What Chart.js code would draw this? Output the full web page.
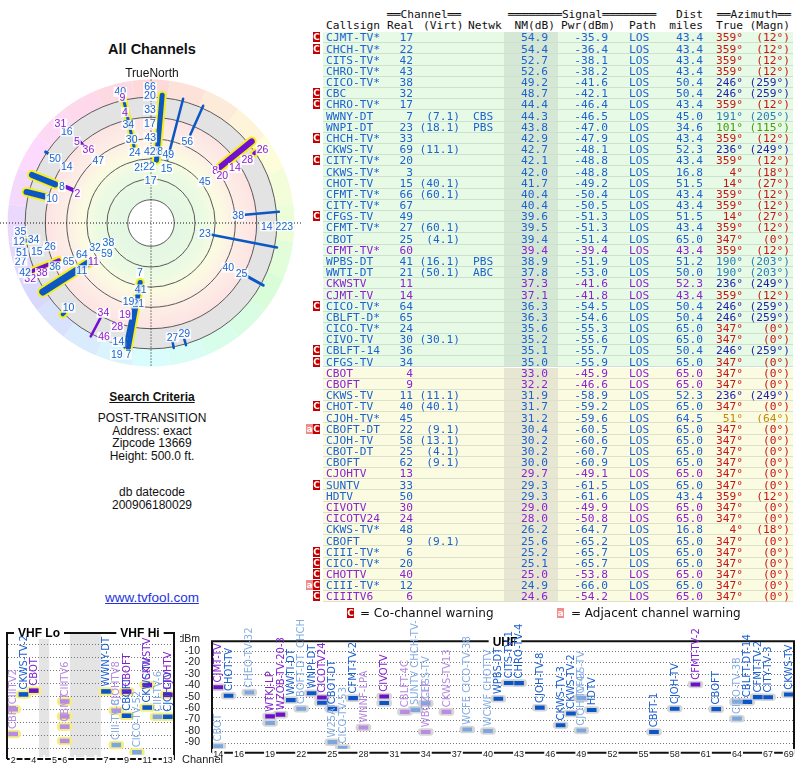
<!DOCTYPE html>
<html><head><meta charset="utf-8">
<script src="https://cdn.jsdelivr.net/npm/chart.js@4.4.1/dist/chart.umd.min.js"></script>
<style>
body{margin:0;width:800px;height:768px;position:relative;background:#fff;overflow:hidden;font-family:"Liberation Sans",Arial,sans-serif;}
.abs{position:absolute;}
.ctr{position:absolute;left:0;width:304px;text-align:center;color:#111;white-space:nowrap;}
.mono{font-family:"DejaVu Sans Mono",monospace;font-size:11.2px;line-height:11px;white-space:pre;}
.row{position:absolute;left:323px;width:470px;border-bottom:1px solid rgba(140,160,140,0.28);box-sizing:border-box;}
.cell{position:absolute;top:0;}
.ico{position:absolute;width:7px;height:10px;color:#fff;font:bold 9px "DejaVu Sans",sans-serif;line-height:10px;text-align:center;}
canvas{position:absolute;}
</style></head><body>

<div class="ctr" style="top:41px;font-weight:bold;font-size:14.5px;">All Channels</div>
<div class="ctr" style="top:66px;font-size:12px;z-index:3;">TrueNorth</div>
<canvas id="polar" width="302" height="302" style="left:0;top:72px;"></canvas>
<div class="ctr" style="top:390px;font-weight:bold;font-size:12px;text-decoration:underline;">Search Criteria</div>
<div class="ctr" style="top:412px;font-size:12px;line-height:12.5px;">POST-TRANSITION<br>Address: exact<br>Zipcode 13669<br>Height: 500.0 ft.</div>
<div class="ctr" style="top:486px;font-size:12px;line-height:12.5px;">db datecode<br>200906180029</div>
<div class="ctr" style="top:590px;font-size:13.5px;color:#2233dd;text-decoration:underline;">www.tvfool.com</div>

<div id="tbl"></div>

<canvas id="vhf" width="180" height="148" style="left:0;top:620px;"></canvas>
<canvas id="uhf" width="620" height="148" style="left:180px;top:620px;"></canvas>
<div class="abs" style="left:182px;top:753px;font-size:11px;color:#222;">Channel</div>

<script>
// ---------------- TABLE DATA ----------------
const callsign = ['CJMT-TV*','CHCH-TV*','CITS-TV*','CHRO-TV*','CICO-TV*','CBC','CHRO-TV*','WWNY-DT','WNPI-DT','CHCH-TV*','CKWS-TV','CITY-TV*','CKWS-TV*','CHOT-TV','CFMT-TV*','CITY-TV*','CFGS-TV','CFMT-TV*','CBOT','CFMT-TV*','WPBS-DT','WWTI-DT','CKWSTV','CJMT-TV','CICO-TV*','CBLFT-D*','CICO-TV*','CIVO-TV','CBLFT-14','CFGS-TV','CBOT','CBOFT','CKWS-TV','CHOT-TV','CJOH-TV*','CBOFT-DT','CJOH-TV','CBOT-DT','CBOFT','CJOHTV','SUNTV','HDTV','CIVOTV','CICOTV24','CKWS-TV*','CBOFT','CIII-TV*','CICO-TV*','CHOTTV','CIII-TV*','CIIITV6'];
const realCh = [17,22,42,43,38,32,17,7,23,33,69,20,3,15,66,67,49,27,25,60,41,21,11,14,64,65,24,30,36,34,4,9,11,40,45,22,58,25,62,13,33,50,30,24,48,9,6,20,40,12,6];
const virtCh = ['','','','','','','','7.1','18.1','','11.1','','','40.1','60.1','','','60.1','4.1','','16.1','50.1','','','','','','30.1','','','','','11.1','40.1','','9.1','13.1','4.1','9.1','','','','','','','9.1','','','','',''];
const netwk = ['','','','','','','','CBS','PBS','','','','','','','','','','','','PBS','ABC','','','','','','','','','','','','','','','','','','','','','','','','','','','','',''];
const nmDb = [54.9,54.4,52.7,52.6,49.2,48.7,44.4,44.3,43.8,42.9,42.7,42.1,42.0,41.7,40.4,40.4,39.6,39.5,39.4,39.4,38.9,37.8,37.3,37.1,36.3,36.3,35.6,35.2,35.1,35.0,33.0,32.2,31.9,31.7,31.2,30.4,30.2,30.2,30.0,29.7,29.3,29.3,29.0,28.0,26.2,25.6,25.2,25.1,25.0,24.9,24.6];
const pwrDbm = [-35.9,-36.4,-38.1,-38.2,-41.6,-42.1,-46.4,-46.5,-47.0,-47.9,-48.1,-48.8,-48.8,-49.2,-50.4,-50.5,-51.3,-51.3,-51.4,-39.4,-51.9,-53.0,-41.6,-41.8,-54.5,-54.6,-55.3,-55.6,-55.7,-55.9,-45.9,-46.6,-58.9,-59.2,-59.6,-60.5,-60.6,-60.7,-60.9,-49.1,-61.5,-61.6,-49.9,-50.8,-64.7,-65.2,-65.7,-65.7,-53.8,-66.0,-54.2];
const distMi = [43.4,43.4,43.4,43.4,50.4,50.4,43.4,45.0,34.6,43.4,52.3,43.4,16.8,51.5,43.4,43.4,51.5,43.4,65.0,43.4,51.2,50.0,52.3,43.4,50.4,50.4,65.0,65.0,50.4,65.0,65.0,65.0,52.3,65.0,64.5,65.0,65.0,65.0,65.0,65.0,65.0,43.4,65.0,65.0,16.8,65.0,65.0,65.0,65.0,65.0,65.0];
const azTrue = [359,359,359,359,246,246,359,191,101,359,236,359,4,14,359,359,14,359,347,359,190,190,236,359,246,246,347,347,246,347,347,347,236,347,51,347,347,347,347,347,347,359,347,347,4,347,347,347,347,347,347];
const azMagn = [12,12,12,12,259,259,12,205,115,12,249,12,18,27,12,12,27,12,0,12,203,203,249,12,259,259,0,0,259,0,0,0,249,0,64,0,0,0,0,0,0,12,0,0,18,0,0,0,0,0,0];
const analogRows = [19,22,23,30,31,39,42,43,48,50];
const coChannelRows = [0,1,5,6,9,11,16,24,28,29,33,35,40,46,47,48,49,50];
const adjChannelRows = [35,49];

const BLUE_T = '#1d62d0', PURPLE_T = '#8b22d3';
function azColor(a){
  if ([359,347,14,4].includes(a)) return '#c81414';
  if ([246,236].includes(a)) return '#1e1ea8';
  if (a===101) return '#4b9b0a';
  if (a===190||a===191) return '#2a7db5';
  if (a===51) return '#c38a00';
  return '#333';
}
(function buildTable(){
  const tbl = document.getElementById('tbl');
  function put(parent, txt, x, align, color, top){
    const s = document.createElement('div');
    s.className = 'cell mono';
    s.textContent = txt;
    s.style.color = color;
    if (top!==undefined) s.style.top = top+'px';
    if (align==='r'){ s.style.left=(x-120)+'px'; s.style.width='120px'; s.style.textAlign='right'; }
    else s.style.left = x+'px';
    parent.appendChild(s);
  }
  const h = document.createElement('div'); h.className='abs'; h.style.left='0'; h.style.top='0'; tbl.appendChild(h);
  put(h,'══Channel══',387,'l','#111',9);
  put(h,'════════Signal════════',508,'l','#111',9);
  put(h,'Dist',703,'r','#111',9);
  put(h,'══Azimuth══',717,'l','#111',9);
  put(h,'Callsign',326,'l','#111',20);
  put(h,'Real',387,'l','#111',20);
  put(h,'(Virt)',423,'l','#111',20);
  put(h,'Netwk',468,'l','#111',20);
  put(h,'NM(dB)',555,'r','#111',20);
  put(h,'Pwr(dBm)',615,'r','#111',20);
  put(h,'Path',629,'l','#111',20);
  put(h,'miles',703,'r','#111',20);
  put(h,'True',743,'r','#111',20);
  put(h,'(Magn)',790,'r','#111',20);
  const ROW0 = 32.1, RH = 11.18;
  for (let i=0;i<callsign.length;i++){
    const top = ROW0 + i*RH;
    const green = i < 30;
    const bg = document.createElement('div'); bg.className='row';
    bg.style.top = top+'px'; bg.style.height = RH+'px';
    bg.style.background = green ? '#e6fae6' : '#fbfbe2';
    const sh = document.createElement('div'); sh.className='abs';
    sh.style.left='181px'; sh.style.width='54px'; sh.style.top='0'; sh.style.height='100%';
    sh.style.background = green ? '#d5e8d5' : '#e6e6d2';
    bg.appendChild(sh);
    tbl.appendChild(bg);
    const r = document.createElement('div'); r.className='abs';
    r.style.left='0'; r.style.top=(top+0.3)+'px'; r.style.width='800px'; r.style.height=RH+'px';
    tbl.appendChild(r);
    const col = analogRows.includes(i) ? PURPLE_T : BLUE_T;
    put(r, callsign[i], 326,'l',col);
    put(r, String(realCh[i]), 413,'r',col);
    if (virtCh[i]) put(r, '('+virtCh[i]+')', 460,'r',col);
    if (netwk[i]) put(r, netwk[i], 473,'l',col);
    put(r, nmDb[i].toFixed(1), 548,'r',col);
    put(r, pwrDbm[i].toFixed(1), 608,'r',col);
    put(r, 'LOS', 629,'l',col);
    put(r, distMi[i].toFixed(1), 703,'r',col);
    put(r, azTrue[i]+'°', 743,'r',azColor(azTrue[i]));
    put(r, '('+azMagn[i]+'°)', 790,'r',azColor(azTrue[i]));
    if (coChannelRows.includes(i)){
      const c = document.createElement('div'); c.className='ico'; c.textContent='C';
      c.style.background='#c40000'; c.style.left='313px'; c.style.top='0px'; r.appendChild(c);
    }
    if (adjChannelRows.includes(i)){
      const a = document.createElement('div'); a.className='ico'; a.textContent='a';
      a.style.background='#f08c8c'; a.style.left='306px'; a.style.top='0px'; r.appendChild(a);
    }
  }
  const lg = document.createElement('div'); lg.className='abs'; lg.style.left='0'; lg.style.top='607px'; tbl.appendChild(lg);
  const c1 = document.createElement('div'); c1.className='ico'; c1.textContent='C'; c1.style.background='#c40000'; c1.style.left='347px'; c1.style.top='1px'; lg.appendChild(c1);
  const t1 = document.createElement('div'); t1.className='abs'; t1.textContent='= Co-channel warning'; t1.style.cssText+='left:360px;top:-1px;font:12px "DejaVu Sans",sans-serif;color:#111;white-space:nowrap;'; lg.appendChild(t1);
  const c2 = document.createElement('div'); c2.className='ico'; c2.textContent='a'; c2.style.background='#f08c8c'; c2.style.left='557px'; c2.style.top='1px'; lg.appendChild(c2);
  const t2 = document.createElement('div'); t2.className='abs'; t2.textContent='= Adjacent channel warning'; t2.style.cssText+='left:571px;top:-1px;font:12px "DejaVu Sans",sans-serif;color:#111;white-space:nowrap;'; lg.appendChild(t2);
})();

// ---------------- POLAR PLOT DATA ----------------
const polarBarAz  = [5, 14.5, 24, 51, 85, 101, 119, 190.3, 192, 208, 237.5, 248, 292, 284, 319, 347.5, 169.7, 164, 304, 293, 224, 56, 262];
const polarBarIn  = [50, 52, 77, 71, 75, 49, 87, 48, 64, 85, 58, 79, 82, 87, 80, 62, 96, 96, 99, 67, 99, 99, 98];
const polarBarOut = [102,102,102,103,102,102,102,101,101,102,102,104,102,102,89,102,101,101,101,73,101,103,101];
const polarBarAnalog = [0,0,0,1,0,0,0,0,0,1,0,1,0,0,1,0,0,0,0,1,0,1,0];
const polarBarWeight = [5,2.5,2.5,6,2.5,2.5,3,5,2.5,2.5,7,4,6,6,2.5,3,2.5,2.5,3,4,4,4,4];
const polarBarHighlight = [1,0,0,1,0,0,0,1,0,0,1,1,1,1,0,1,0,0,0,0,1,1,1];

const polarLabelText = ['66','20','40','9','33','4','17','34','43','30','28','42','24','49','25','22','15','17','56','45','8','20','14','28','26','38','14','223','23','40','25','27','29','7','41','21','19','19','28','14','46','19','7','34','10','11','11','59','38','32','64','65','36','38','32','42','27','51','15','26','35','12','34','10','8','2','50','14','47','36','5','16','31'];
const polarLabelAz = [359.6,359.5,346.8,347.2,359.5,346.8,359.4,347,359.5,347,5,359,347,14.2,349,358,16,359.5,24,52.3,50.5,56.4,56.8,56.7,56.7,85.2,91.7,91.4,101.2,120,119.2,169.3,163.3,192.4,188.8,189,196,195.8,198,195.3,202.4,194.6,189.8,207.9,224.2,235.7,236.4,235.3,244.9,246,245.5,245.1,245.7,245.4,245.3,248.4,253.7,257,256,257,266.4,262,262,283.8,292,291.7,304,303.6,319.8,319.5,317.7,317.4,317.7];
const polarLabelR = [108,101,107,102.5,90,90.5,79,80,68,68.4,57,57,57.5,56,45,44.5,44.6,34,71,54,66,68,79.7,91.5,106,69.5,92,106,43.7,71,82.4,92.4,92,40.6,53.5,64.8,64.7,75.6,86.8,98,97.9,108,106,80.8,94,66.6,55,42.8,37.4,48.7,60.5,72.3,83.6,95.4,105.7,107.6,108,105.4,93.5,82.3,104,106,94.3,81,76.4,63,92,80.4,64.8,76.6,87.6,98.8,107];
const polarLabelAnalog = [0,0,0,1,0,1,0,0,0,0,0,0,0,0,0,0,0,0,0,0,1,1,1,1,1,0,0,0,0,0,0,0,0,0,0,0,0,1,1,0,1,0,0,1,0,0,1,0,0,0,0,0,0,1,1,0,0,0,0,0,0,0,0,0,0,1,0,0,0,1,1,0,1];

const rad = d => d*Math.PI/180;
const toXY = (az, r) => ({x: r*Math.sin(rad(az)), y: r*Math.cos(rad(az))});
const P_BLUE = '#0c57c4', P_PURPLE = '#7010d0', P_HI = '#f5ef1a';

const polarDatasets = [];
polarBarAz.forEach((az,i)=>{
  const pts = [toXY(az, polarBarIn[i]), toXY(az, polarBarOut[i])];
  polarDatasets.push({data: pts, showLine:true, pointRadius:0, borderWidth: polarBarWeight[i],
    borderColor: polarBarAnalog[i] ? P_PURPLE : P_BLUE, borderCapStyle:'round', order:0});
  if (polarBarHighlight[i]) polarDatasets.push({data: pts, showLine:true, pointRadius:0,
    borderWidth: polarBarWeight[i]+4, borderColor: P_HI, borderCapStyle:'round', order:1});
});

const polarBg = {
  id:'polarBg',
  beforeDraw(chart){
    const {ctx, scales:{x, y}} = chart;
    const cx = x.getPixelForValue(0), cy = y.getPixelForValue(0);
    const k = (x.getPixelForValue(100) - cx)/100;
    ctx.save();
    for (let a=0; a<360; a+=15){
      const a0 = rad(a-90-7.5), a1 = rad(a-90+7.5);
      ctx.beginPath(); ctx.arc(cx,cy,114*k,a0,a1); ctx.arc(cx,cy,100*k,a1,a0,true); ctx.closePath();
      ctx.fillStyle = `hsl(${a},88%,92%)`; ctx.fill();
    }
    ctx.beginPath(); ctx.arc(cx,cy,100*k,0,2*Math.PI); ctx.fillStyle='#e3e3e3'; ctx.fill();
    const g = ctx.createRadialGradient(cx,cy,18.5*k,cx,cy,84*k);
    g.addColorStop(0,'#e3f7e3'); g.addColorStop(0.35,'#ebfae3'); g.addColorStop(0.55,'#fbfbe1');
    g.addColorStop(0.75,'#fdeee6'); g.addColorStop(1,'#fde3e3');
    ctx.beginPath(); ctx.arc(cx,cy,84*k,0,2*Math.PI); ctx.fillStyle=g; ctx.fill();
    ctx.beginPath(); ctx.arc(cx,cy,18.5*k,0,2*Math.PI); ctx.fillStyle='#fff'; ctx.fill();
    ctx.strokeStyle='#5a5a5a'; ctx.lineWidth=1;
    [18.5,35,51,67,84,100].forEach(r=>{ctx.beginPath(); ctx.arc(cx,cy,r*k,0,2*Math.PI); ctx.stroke();});
    ctx.setLineDash([1,2]); ctx.strokeStyle='#111';
    ctx.beginPath(); ctx.moveTo(cx, y.getPixelForValue(114)); ctx.lineTo(cx, y.getPixelForValue(-114)); ctx.stroke();
    ctx.beginPath(); ctx.moveTo(x.getPixelForValue(-120), cy); ctx.lineTo(x.getPixelForValue(120), cy); ctx.stroke();
    ctx.restore();
  },
  afterDatasetsDraw(chart){
    const {ctx, scales:{x, y}} = chart;
    ctx.save();
    ctx.font = '10.5px "Liberation Sans", Arial, sans-serif';
    ctx.textAlign='center'; ctx.textBaseline='middle';
    polarLabelText.forEach((t,i)=>{
      const p = toXY(polarLabelAz[i], polarLabelR[i]);
      const px = x.getPixelForValue(p.x), py = y.getPixelForValue(p.y);
      const w = ctx.measureText(t).width;
      ctx.fillStyle='rgba(255,255,255,0.85)';
      ctx.fillRect(px-w/2-1, py-5, w+2, 10);
      ctx.fillStyle = polarLabelAnalog[i] ? '#8a1ad0' : '#1a64d2';
      ctx.fillText(t, px, py+0.5);
    });
    ctx.restore();
  }
};

new Chart(document.getElementById('polar'), {
  type:'scatter',
  data:{datasets: polarDatasets},
  options:{responsive:false, animation:false, events:[],
    layout:{padding:0},
    plugins:{legend:{display:false}, tooltip:{enabled:false}},
    scales:{x:{type:'linear',min:-120,max:120,display:false}, y:{type:'linear',min:-120,max:120,display:false}}
  },
  plugins:[polarBg]
});

// ---------------- SPECTRUM (BOTTOM) DATA ----------------
const vhfSlots = ['2','3','4','','5','6','','','','7','8','9','10','11','12','13'];
const vhfShownTicks = ['2','4','5','6','7','9','11','13'];
const vhfCh   = ['2','2','3','4','6','6','6','6','7','8','8','9','9','10','11','11','12','13','13'];
const vhfPwr  = [-60.2,-79.2,-48.8,-45.9,-54.2,-65.7,-73.6,-84.6,-46.5,-61.3,-87.7,-65.2,-46.6,-93.3,-58.9,-41.6,-66.0,-66.0,-49.1];
const vhfCall = ['CIIITV2','CBFT','CKWS-TV-2','CBOT','CIIITV6','','CBMT','','WWNY-DT','CJOHTV8','CIII-TV-8','CBOFT','CBOFT','CICO-TV-52','CKWS-TV','CKWSTV','CIII-TV-6','CJOH-TV','CJOHTV'];
const vhfType = ['anaW','anaW','dig','ana','anaW','anaW','anaW','anaW','dig','anaW','digW','dig','ana','digW','dig','ana','digW','dig','ana'];

const uhfTicks = [14,16,19,22,25,28,31,34,37,40,43,46,49,52,55,58,61,64,67,69];
const dbmTicks = [0,-10,-20,-30,-40,-50,-60,-70,-80,-90];
const uhfCh  = [14,14,15,17,19,19,20,21,22,23,24,24,25,25,26,27,28,30,30,32,33,34,34,36,38,40,41,42,43,45,47,48,49,49,50,56,58,60,62,64,64,65,66,67,69];
const uhfPwr = [-41.8,-93.3,-49.2,-46.4,-67.2,-73.0,-65.7,-53.0,-60.5,-47.0,-50.8,-55.3,-60.7,-89.7,-94.9,-51.3,-76.9,-49.9,-55.6,-63.3,-61.5,-55.9,-80.8,-63.3,-78.7,-80.0,-51.9,-38.1,-38.2,-59.6,-74.9,-64.7,-79.5,-51.3,-61.6,-80.8,-60.6,-39.4,-60.9,-69.2,-54.5,-54.6,-50.4,-50.5,-48.1];
const uhfCall = ['CJMT-TV','CBOT','CHOT-TV','CHEO-TV-32','WTKJ-LP','','WZOB-TV-20-3','WWTI-DT','CBOFT-DT  CHCH-TV-1','WNPI-DT','CICOTV24','','CBOT-DT','W25AT','CICO-TV-53','CFMT-TV-2','WNNF-LPA','CIVOTV','','CBLFT-4C','SUNTV CHCH-TV-1','CFGS-TV','WBOZ-LP','CKWS-TV13','WCFE CICO-TV-38','WCWF CHOTTV','WPBS-DT','CITS-TV-1','CHRO-TV-4','CJOH-TV-8','CKWS-TV-3','CKWS-TV-2','CJOH-TV-47','CFGS-TV','HDTV','CBFT-1','CJOH-TV','CFMT-TV-2','CBOFT','CICO-TV-38','','CBLFT-DT-14','CFMT-TV-2','CITY-TV-3','CKWS-TV'];
const uhfType = ['ana','digW','dig','digW','ana','digW','ana','dig','digW','dig','ana','dig','dig','digW','digW','dig','anaW','ana','dig','anaW','digW','digW','anaW','anaW','digW','digW','dig','dig','dig','dig','dig','dig','digW','digW','dig','dig','dig','ana','dig','digW','digW','dig','dig','dig','dig'];

const BAR_COL = {dig:'#0b55c6', digW:'#7ea6de', ana:'#6a12c4', anaW:'#b88ce0'};
const TXT_COL = {dig:'#1a5fd0', digW:'#86aee4', ana:'#8420d0', anaW:'#b48ae0'};

function makeDatasets(chs, pwr, types, haloColor){
  const ds = [{data: chs.map((c,i)=>({x:c, y:[pwr[i]-3, pwr[i]+3]})), backgroundColor: haloColor,
    barThickness:15, borderRadius:4, borderSkipped:false, grouped:false, order:1}];
  Object.keys(BAR_COL).forEach(t=>{
    const idx = types.map((v,i)=>v===t?i:-1).filter(i=>i>=0);
    ds.push({data: idx.map(i=>({x:chs[i], y:[pwr[i]-1.5, pwr[i]+1.5]})), backgroundColor: BAR_COL[t],
      barThickness:9, grouped:false, order:0});
  });
  return ds;
}

function spectrumPlugin(chs, pwr, calls, types, toIndex, titles){
  return {
    id:'spec',
    beforeDraw(chart){
      const {ctx, chartArea:a, scales:{x, y}} = chart;
      ctx.save();
      if (chart.canvas.id==='vhf'){
        const w = x.getPixelForValue(1) - x.getPixelForValue(0);
        ctx.fillStyle = '#e4e4e4';
        [[3,3],[6,8]].forEach(([s,e])=>{
          const l = x.getPixelForValue(s)-w/2, r = x.getPixelForValue(e)+w/2;
          ctx.fillRect(l, a.top+2, r-l, a.bottom-a.top);
        });
      }
      ctx.strokeStyle='#777'; ctx.lineWidth=1; ctx.setLineDash([1,2]);
      dbmTicks.forEach(v=>{ if (v===0) return; const py = Math.round(y.getPixelForValue(v))+0.5;
        ctx.beginPath(); ctx.moveTo(a.left, py); ctx.lineTo(a.right, py); ctx.stroke(); });
      ctx.setLineDash([]);
      ctx.strokeStyle='#111'; ctx.lineWidth=2;
      const L = a.left-1, R = a.right+1, T = a.top+2, B = a.bottom+4;
      ctx.beginPath(); ctx.moveTo(L, B); ctx.lineTo(L, T); ctx.lineTo(R, T); ctx.lineTo(R, B); ctx.lineTo(L, B); ctx.stroke();
      ctx.font = 'bold 12px "Liberation Sans", Arial, sans-serif';
      ctx.textAlign='center'; ctx.textBaseline='middle';
      titles.forEach(([t, px])=>{
        const w = ctx.measureText(t).width;
        ctx.fillStyle='#fff'; ctx.fillRect(px-w/2-4, T-6, w+8, 12);
        ctx.fillStyle='#000'; ctx.fillText(t, px, T+1);
      });
      ctx.restore();
    },
    afterDatasetsDraw(chart){
      const {ctx, scales:{x, y}} = chart;
      ctx.save();
      ctx.font = '10px "DejaVu Sans", sans-serif';
      ctx.textAlign='left'; ctx.textBaseline='middle';
      chs.forEach((c,i)=>{
        if (!calls[i]) return;
        const px = x.getPixelForValue(toIndex(c)), py = y.getPixelForValue(pwr[i]+1.5);
        ctx.save(); ctx.translate(px, py-3); ctx.rotate(-Math.PI/2);
        ctx.fillStyle = TXT_COL[types[i]]; ctx.fillText(calls[i], 0, 0.5);
        ctx.restore();
      });
      ctx.restore();
    }
  };
}

const tickFont = {family:'"Liberation Sans", Arial, sans-serif', size:9};
new Chart(document.getElementById('vhf'), {
  type:'bar',
  data:{labels: vhfSlots, datasets: makeDatasets(vhfCh, vhfPwr, vhfType, '#f3ef86')},
  options:{responsive:false, animation:false, events:[],
    layout:{padding:{left:8, right:7, top:11, bottom:0}},
    plugins:{legend:{display:false}, tooltip:{enabled:false}},
    scales:{
      x:{type:'category', offset:true, grid:{display:false, drawTicks:false}, border:{display:false},
        ticks:{autoSkip:false, maxRotation:0, padding:0, font:tickFont, color:'#222',
          showLabelBackdrop:true, backdropColor:'#fff', backdropPadding:{x:1,y:0},
          callback:function(v){const l=this.getLabelForValue(v); return vhfShownTicks.includes(l)?l:'';}},
        afterFit:s=>{s.height=13;}},
      y:{display:false, min:-95.4, max:0}
    }
  },
  plugins:[spectrumPlugin(vhfCh, vhfPwr, vhfCall, vhfType, c=>vhfSlots.indexOf(c), [['VHF Lo',39],['VHF Hi',140]])]
});

new Chart(document.getElementById('uhf'), {
  type:'bar',
  data:{datasets: makeDatasets(uhfCh, uhfPwr, uhfType, '#d6d6d6')},
  options:{responsive:false, animation:false, events:[],
    layout:{padding:{left:0, right:7, top:11, bottom:0}},
    plugins:{legend:{display:false}, tooltip:{enabled:false}},
    scales:{
      x:{type:'linear', min:13.5, max:69.4, offset:false, grid:{display:false, drawTicks:false}, border:{display:false},
        afterBuildTicks:s=>{s.ticks = uhfTicks.map(v=>({value:v}));},
        ticks:{autoSkip:false, maxRotation:0, padding:0, font:tickFont, color:'#222',
          showLabelBackdrop:true, backdropColor:'#fff', backdropPadding:{x:1,y:0}},
        afterFit:s=>{s.height=13;}},
      y:{min:-95.4, max:0, grid:{display:false, drawTicks:false}, border:{display:false},
        afterBuildTicks:s=>{s.ticks = dbmTicks.map(v=>({value:v}));},
        ticks:{autoSkip:false, padding:13, font:{family:'"Liberation Sans", Arial, sans-serif', size:10.5}, color:'#222',
          callback:v=> v===0 ? 'dBm' : String(v)},
        afterFit:s=>{s.width=33;}}
    }
  },
  plugins:[spectrumPlugin(uhfCh, uhfPwr, uhfCall, uhfType, c=>c, [['UHF',325]])]
});
</script>
</body></html>
